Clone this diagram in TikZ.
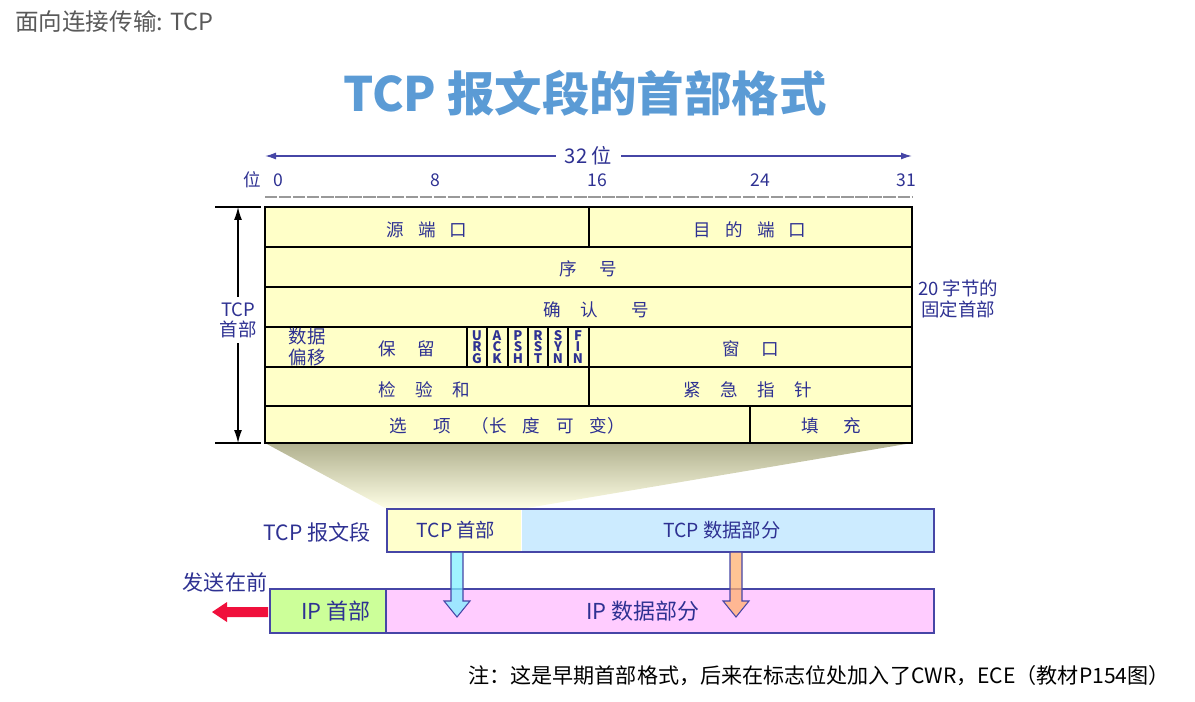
\documentclass[tikz,border=0pt]{standalone}
\usepackage{fontspec}
\setmainfont{Noto Sans CJK SC}
\usetikzlibrary{arrows.meta,calc,positioning}
\definecolor{HdrInk}{HTML}{2E3192}
\definecolor{HdrFrame}{HTML}{4646A6}
\definecolor{HdrTitle}{HTML}{5B9BD5}
\definecolor{HdrGray}{HTML}{595959}
\definecolor{CellFill}{HTML}{FFFFC8}
\definecolor{ShadeTop}{HTML}{B0B08E}
\definecolor{ShadeLow}{HTML}{FFFFE6}
\definecolor{SegHead}{HTML}{FFFFCC}
\definecolor{SegData}{HTML}{CCEBFF}
\definecolor{IpHead}{HTML}{CCFF99}
\definecolor{IpData}{HTML}{FFCCFF}
\definecolor{DownCyan}{HTML}{80F0FF}
\definecolor{DownOrange}{HTML}{FFB070}
\definecolor{SendRed}{HTML}{F0103C}
\tikzset{
  every node/.style={text=HdrInk, inner sep=0pt},
  field/.style={font=\fontsize{10}{12}\selectfont, align=center},
  flag/.style={font=\fontsize{7.5}{6.4}\selectfont\bfseries, align=center},
  bitno/.style={font=\fontsize{10}{12}\selectfont},
  side/.style={font=\fontsize{10.5}{11.5}\selectfont, align=center},
  cellrule/.style={draw=black, line width=0.6pt},
  frame/.style={draw=black, line width=1.5pt},
  ruler/.style={draw=gray!80, line width=1pt, dash pattern=on 7pt off 1pt},
  span/.style={{Latex[length=2.2mm,width=1.4mm]}-{Latex[length=2.2mm,width=1.4mm]}, draw=HdrFrame, line width=0.8pt},
  height/.style={{Latex[length=2.6mm,width=1.6mm]}-{Latex[length=2.6mm,width=1.6mm]}, draw=black, line width=0.7pt},
  boxline/.style={draw=HdrFrame, line width=1.1pt},
  partname/.style={font=\fontsize{11}{13}\selectfont},
  ipname/.style={font=\fontsize{12.5}{14}\selectfont},
  downarrow/.style={draw=HdrFrame, line width=0.6pt, fill opacity=0.75},
}

\begin{document}
\begin{tikzpicture}[x=0.02cm, y=-0.02cm]
  \useasboundingbox (0,0) rectangle (1195,702);
  % Headings
  \node[anchor=west, text=HdrGray, font=\fontsize{13.4}{15}\selectfont] (page) at (15,22) {面向连接传输: TCP};
  \node[text=HdrTitle, font=\fontsize{27}{30}\selectfont\bfseries] (title) at (585,93) {TCP 报文段的首部格式};
  % Word width
  \coordinate (w0) at (265,156);
  \coordinate (w32) at (912,156);
  \draw[span] (w0) -- (w32)
    node[midway, fill=white, inner xsep=5pt, inner ysep=2pt, font=\fontsize{11.5}{13}\selectfont] (wlabel) {32 位};
  % Bit positions
  \node[bitno] (bitword) at (252,180) {位};
  \foreach \b/\x in {0/278, 8/435, 16/597, 24/760, 31/906} {
    \node[bitno] (bit\b) at (\x,180) {\b};
  }
  \draw[ruler] (265,197) -- (912,197);
  % Fan from the header down to the segment
  \shade[top color=ShadeTop, bottom color=ShadeLow]
    (265,443) -- (912,443) -- (521,509) -- (387,509) -- cycle;
  % Header rows
  \fill[CellFill] (265,207) rectangle (912,443);
  \foreach \y in {247,287,327,367,406} {
    \draw[cellrule] (265,\y) -- (912,\y);
  }
  \draw[cellrule] (589,207) -- (589,247);
  \foreach \x in {467,487,508,528,548,568,589} {
    \draw[cellrule] (\x,327) -- (\x,367);
  }
  \draw[cellrule] (589,367) -- (589,406);
  \draw[cellrule] (750,406) -- (750,443);
  \draw[frame] (265,207) rectangle (912,443);
  % Fields
  \node[field] (srcport) at (427,230) {源\hspace{0.8em}端\hspace{0.8em}口};
  \node[field] (dstport) at (750,230) {目\hspace{0.8em}的\hspace{0.8em}端\hspace{0.8em}口};
  \node[field] (seq) at (588,269) {序\hspace{1.3em}号};
  \node[field] (ack) at (596,310) {确\hspace{1.1em}认\hspace{1.9em}号};
  \node[field, font=\fontsize{10.5}{11.5}\selectfont] (offset) at (307,347) {数据\\偏移};
  \node[field] (resv) at (407,349) {保\hspace{1.2em}留};
  \foreach \x/\a/\b/\c in {477/U/R/G, 497/A/C/K, 518/P/S/H, 538/R/S/T, 558/S/Y/N, 578/F/I/N} {
    \node[flag] (flag\a\x) at (\x,347) {\a\\\b\\\c};
  }
  \node[field] (window) at (751,349) {窗\hspace{1.2em}口};
  \node[field] (checksum) at (424,390) {检\hspace{1.1em}验\hspace{1.1em}和};
  \node[field] (urgent) at (748,390) {紧\hspace{1.1em}急\hspace{1.1em}指\hspace{1.1em}针};
  \node[field] (options) at (507,426) {选\hspace{1.5em}项\hspace{1.2em}（长\hspace{0.9em}度\hspace{0.9em}可\hspace{0.9em}变）};
  \node[field] (padding) at (831,426) {填\hspace{1.4em}充};
  % Header height
  \coordinate (htop) at (238,207);
  \coordinate (hbot) at (238,443);
  \draw[black, line width=0.7pt] (215,207) -- (261,207);
  \draw[black, line width=0.7pt] (215,443) -- (261,443);
  \draw[height] (htop) -- (hbot);
  \node[side, fill=white, inner ysep=3pt] (hlabel) at (238,320) {TCP\\首部};
  \node[side] (fixed) at (958,299) {20 字节的\\固定首部};
  % TCP segment
  \node[font=\fontsize{12}{14}\selectfont] (seglabel) at (317,532) {TCP 报文段};
  \fill[SegHead] (387,509) rectangle (521,552);
  \fill[SegData] (522,509) rectangle (934,552);
  \draw[boxline] (387,509) rectangle (934,552);
  \node[partname] (seghead) at (456,530) {TCP 首部};
  \node[partname] (segdata) at (722,530) {TCP 数据部分};
  % IP datagram
  \draw[boxline, fill=IpHead] (270,589) rectangle (386,633);
  \draw[boxline, fill=IpData] (386,589) rectangle (934,633);
  \node[ipname] (iphead) at (336,611) {IP 首部};
  \node[ipname] (ipdata) at (643,611) {IP 数据部分};
  \node[font=\fontsize{12}{14}\selectfont] (send) at (225,582) {发送在前};
  \fill[SendRed] (268,607) -- (227,607) -- (227,602) -- (212,612) -- (227,622) -- (227,617) -- (268,617) -- cycle;
  % Parts moving down
  \draw[downarrow, fill=DownCyan] (451,552) -- (463,552) -- (463,601) -- (470,601) -- (457,617)
    -- (444,601) -- (451,601) -- cycle;
  \draw[downarrow, fill=DownOrange] (730,552) -- (742,552) -- (742,601) -- (749,601) -- (736,617)
    -- (723,601) -- (730,601) -- cycle;
  % Note
  \node[anchor=west, text=black, font=\fontsize{12}{14}\selectfont] (note) at (468,676)
    {注：这是早期首部格式，后来在标志位处加入了CWR，ECE（教材P154图）};
\end{tikzpicture}
\end{document}
